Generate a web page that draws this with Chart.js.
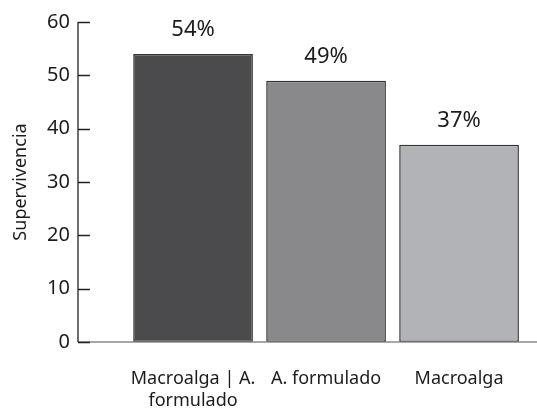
<!DOCTYPE html>
<html>
<head>
  <script src="https://cdn.jsdelivr.net/npm/chart.js"></script>
  <style>
    html, body { margin: 0; padding: 0; background: #fff; }
    #wrap { width: 537px; height: 412px; }
  </style>
</head>
<body>
  <div id="wrap"><canvas id="survivalChart"></canvas></div>

  <script>
    // Chart data
    var categories = [['Macroalga | A.', 'formulado'], 'A. formulado', 'Macroalga'];
    var survival = [54, 49, 37];
    var valueLabels = ['54%', '49%', '37%'];
    var barColors = ['#4b4b4d', '#89898c', '#b2b3b6'];
    var yTicks = [0, 10, 20, 30, 40, 50, 60];

    var fontFamily = '"Noto Sans", "Open Sans", sans-serif';
    var textColor = '#1c1c1c';

    // Positions of the bars on a linear index axis (1, 2, 3)
    var points = survival.map(function(v, i) { return { x: i + 1, y: v }; });

    // Draws inward tick marks on the y axis, the grey baseline and the % labels
    var decorations = {
      id: 'decorations',
      afterDatasetsDraw: function(chart) {
        var ctx = chart.ctx;
        var y = chart.scales.y;
        var area = chart.chartArea;
        ctx.save();

        // baseline
        ctx.strokeStyle = '#8a8a8a';
        ctx.lineWidth = 1.5;
        ctx.beginPath();
        ctx.moveTo(area.left, y.getPixelForValue(0));
        ctx.lineTo(chart.width, y.getPixelForValue(0));
        ctx.stroke();

        // y axis line + ticks pointing right
        ctx.strokeStyle = '#222';
        ctx.lineWidth = 1.3;
        ctx.beginPath();
        ctx.moveTo(area.left, y.getPixelForValue(60));
        ctx.lineTo(area.left, y.getPixelForValue(0));
        yTicks.forEach(function(t) {
          var py = Math.round(y.getPixelForValue(t)) + 0.5;
          ctx.moveTo(area.left, py);
          ctx.lineTo(area.left + 12, py);
        });
        ctx.stroke();

        // value labels above bars
        var meta = chart.getDatasetMeta(0);
        ctx.fillStyle = textColor;
        ctx.font = '22px ' + fontFamily;
        ctx.textAlign = 'center';
        ctx.textBaseline = 'bottom';
        meta.data.forEach(function(bar, i) {
          ctx.fillText(valueLabels[i], bar.x, bar.y - 13);
        });
        ctx.restore();
      }
    };

    var ctx = document.getElementById('survivalChart').getContext('2d');
    new Chart(ctx, {
      type: 'bar',
      data: {
        datasets: [{
          data: points,
          backgroundColor: barColors,
          borderColor: '#333',
          borderWidth: 1.5,
          borderSkipped: false,
          barPercentage: 0.9,
          categoryPercentage: 1.0
        }]
      },
      options: {
        responsive: true,
        maintainAspectRatio: false,
        animation: false,
        layout: { padding: { top: 22, right: 0, left: 0, bottom: 0 } },
        plugins: {
          legend: { display: false },
          tooltip: { enabled: false }
        },
        scales: {
          x: {
            type: 'linear',
            offset: false,
            min: 0.135,
            max: 3.586,
            grid: { display: false, drawTicks: false },
            border: { display: false },
            afterBuildTicks: function(scale) {
              scale.ticks = categories.map(function(c, i) { return { value: i + 1 }; });
            },
            afterFit: function(scale) { scale.height = 70; },
            ticks: {
              autoSkip: false,
              maxRotation: 0,
              padding: 26,
              color: textColor,
              font: { family: fontFamily, size: 18, lineHeight: 1.2 },
              callback: function(value) { return categories[value - 1]; }
            }
          },
          y: {
            min: 0,
            max: 60,
            grid: { display: false, drawTicks: false },
            border: { display: false },
            afterBuildTicks: function(scale) {
              scale.ticks = yTicks.map(function(t) { return { value: t }; });
            },
            afterFit: function(scale) { scale.width = 78; },
            title: {
              display: true,
              text: 'Supervivencia',
              color: textColor,
              font: { family: fontFamily, size: 18 },
              padding: { top: 10, bottom: 0 }
            },
            ticks: {
              padding: 8,
              color: textColor,
              font: { family: fontFamily, size: 20 }
            }
          }
        }
      },
      plugins: [decorations]
    });
  </script>
</body>
</html>
